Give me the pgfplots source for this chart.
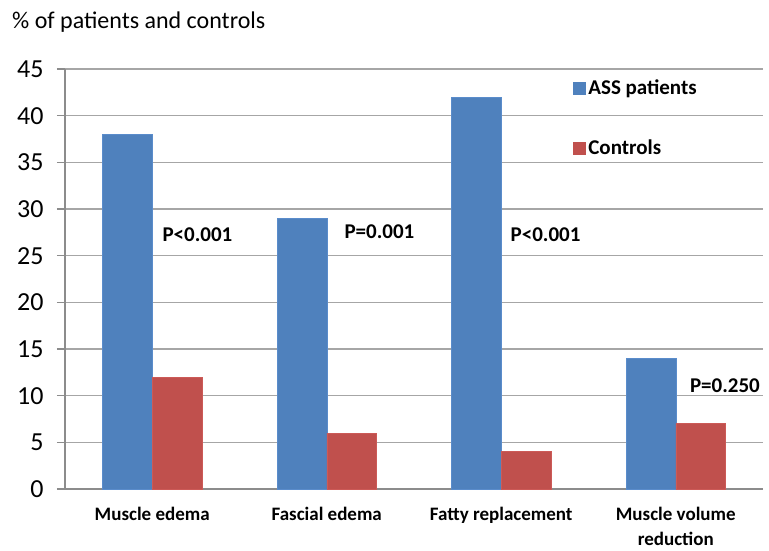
\documentclass[border=0pt]{standalone}
\usepackage{pgfplots}
\pgfplotsset{compat=1.18}
\usepackage{fontspec}
\setmainfont{Carlito}
\definecolor{assblue}{HTML}{4F81BD}
\definecolor{assblueedge}{HTML}{5A8CCB}
\definecolor{ctrlred}{HTML}{C0504D}
\definecolor{ctrlrededge}{HTML}{CC5A57}
\definecolor{gridgray}{HTML}{A6A6A6}
\definecolor{axisgray}{HTML}{8C8C8C}
\begin{document}
\begin{tikzpicture}
\begin{axis}[
  at={(0,0)}, anchor=south west,
  scale only axis, width=698pt, height=420pt,
  xmin=-0.5, xmax=3.5, ymin=0, ymax=45,
  ytick={0,5,...,45},
  xtick={0,1,2,3},
  xticklabels={Muscle edema, Fascial edema, Fatty replacement, {Muscle volume\\reduction}},
  minor xtick={-0.5,0.5,1.5,2.5,3.5},
  axis lines*=left,
  axis line style={axisgray, line width=1.2pt},
  ymajorgrids, grid style={gridgray, line width=1.2pt},
  tick align=outside,
  major tick length=8pt, minor tick length=8pt,
  xtick style={draw=none},
  minor x tick style={axisgray, line width=1.2pt},
  ytick style={axisgray, line width=1.2pt},
  /pgf/number format/assume math mode=true,
  yticklabel style={font=\fontsize{26}{30}\selectfont, xshift=-10pt},
  xticklabel style={font=\bfseries\fontsize{19}{25}\selectfont, align=center, yshift=-7pt},
  ybar=0pt, bar width=0.284,
  legend style={draw=none, fill=none, at={(0.728,0.98)}, anchor=north west,
    font=\bfseries\fontsize{21}{25}\selectfont, row sep=40pt, inner sep=0pt},
  legend cell align=left,
  legend image code/.code={\path[#1,draw=none] (0pt,-7pt) rectangle (13pt,6pt);},
]
\addplot[fill=assblue, draw=assblueedge, bar shift=-0.142] coordinates {(0,38) (1,29) (2,42) (3,14)};
\addplot[fill=ctrlred, draw=ctrlrededge, bar shift=0.142] coordinates {(0,12) (1,6) (2,4) (3,7)};
\legend{ASS patients, Controls}
\node[font=\bfseries\fontsize{21}{24}\selectfont] at (axis cs:0.259,27.3) {P<0.001};
\node[font=\bfseries\fontsize{21}{24}\selectfont] at (axis cs:1.302,27.6) {P=0.001};
\node[font=\bfseries\fontsize{21}{24}\selectfont] at (axis cs:2.254,27.2) {P<0.001};
\node[font=\bfseries\fontsize{21}{24}\selectfont] at (axis cs:3.282,11.1) {P=0.250};
\end{axis}
\node[anchor=west, inner sep=0pt, font=\fontsize{24}{28}\selectfont] at (-53pt,467pt) {\% of patients and controls};
\pgfresetboundingbox
\path (-65pt,-61pt) rectangle (704pt,489pt);
\end{tikzpicture}
\end{document}
